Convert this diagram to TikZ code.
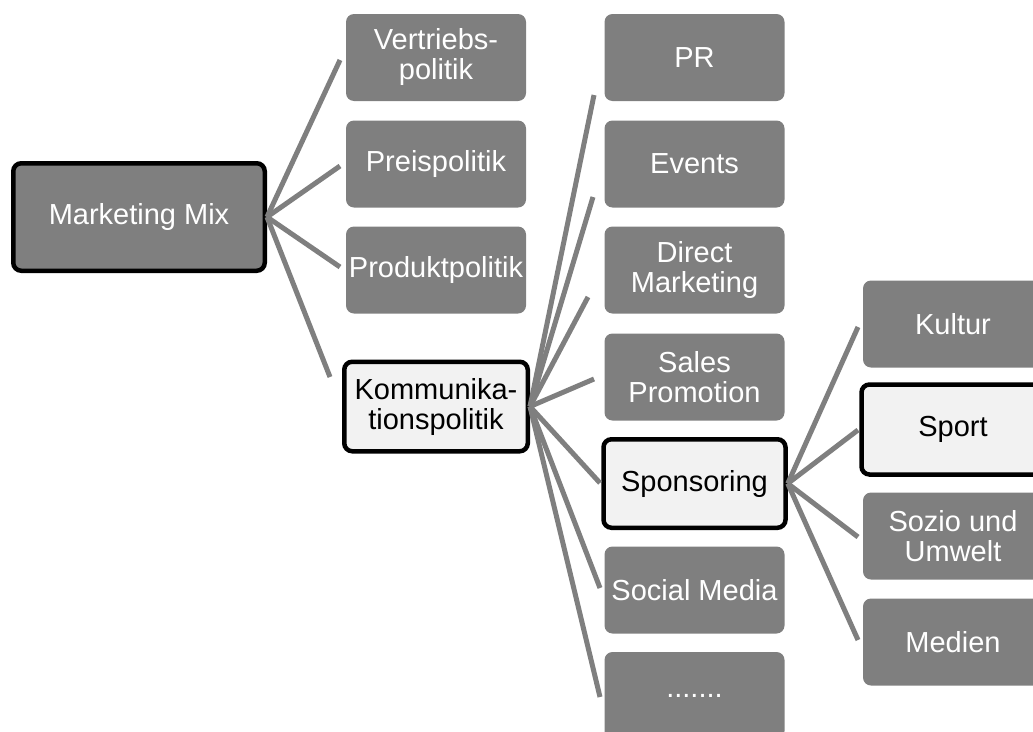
\documentclass[tikz,border=0pt]{standalone}
\usepackage{fontspec}
\setmainfont{Liberation Sans}
\definecolor{boxgray}{RGB}{127,127,127}
\definecolor{lightfill}{RGB}{242,242,242}
\begin{document}
\begin{tikzpicture}[x=1pt,y=-1pt,
  every node/.style={font=\fontsize{29}{30}\selectfont, align=center, inner sep=0pt},
  graybox/.style={rectangle, rounded corners=8pt, fill=boxgray, text=white,
    minimum width=180pt, minimum height=87pt},
  hlbox/.style={rectangle, rounded corners=8pt, fill=lightfill, draw=black,
    line width=4.5pt, text=black},
  conn/.style={draw=boxgray, line width=5pt}]
\useasboundingbox (0,0) rectangle (1033,731);
\clip (0,0) rectangle (1033,731);
% level 0
\node[hlbox, fill=boxgray, text=white, minimum width=251.5pt, minimum height=107.5pt] (mm) at (139,217) {Marketing Mix};
% level 1
\node[graybox] (vp) at (436,57.5) {Vertriebs-\\politik};
\node[graybox] (pp) at (436,164) {Preispolitik};
\node[graybox] (prod) at (436,270) {Produktpolitik};
\node[hlbox, minimum width=183.5pt, minimum height=89.5pt] (kp) at (436,406.5) {Kommunika-\\tionspolitik};
% level 2
\node[graybox] (pr) at (694.5,57.5) {PR};
\node[graybox] (ev) at (694.5,164) {Events};
\node[graybox] (dm) at (694.5,270) {Direct\\Marketing};
\node[graybox] (sp) at (694.5,377) {Sales\\Promotion};
\node[hlbox, minimum width=182pt, minimum height=88.5pt] (spon) at (694.5,483.5) {Sponsoring};
\node[graybox] (sm) at (694.5,590) {Social Media};
\node[graybox] (dots) at (694.5,695.5) {.......};
% level 3
\node[graybox] (ku) at (953,324) {Kultur};
\node[hlbox, minimum width=183pt, minimum height=90pt] (spo) at (953,429.5) {Sport};
\node[graybox] (so) at (953,536) {Sozio und\\Umwelt};
\node[graybox] (me) at (953,642) {Medien};
% connector ends
\coordinate (vpE) at (340,60);
\coordinate (ppE) at (340,166);
\coordinate (prodE) at (340,267);
\coordinate (kpE) at (330,377);
\coordinate (prE) at (594,95);
\coordinate (evE) at (593,197);
\coordinate (dmE) at (588,297);
\coordinate (spE) at (594,379);
\coordinate (sponE) at (600,483);
\coordinate (smE) at (600,588);
\coordinate (dotsE) at (600,697);
\coordinate (kuE) at (858,327);
\coordinate (spoE) at (858,430);
\coordinate (soE) at (858,537);
\coordinate (meE) at (858,640);
% connectors
\foreach \e in {vpE,ppE,prodE,kpE} \draw[conn] (mm.east) -- (\e);
\foreach \e in {prE,evE,dmE,spE,sponE,smE,dotsE} \draw[conn] (kp.east) -- (\e);
\foreach \e in {kuE,spoE,soE,meE} \draw[conn] (spon.east) -- (\e);
\end{tikzpicture}
\end{document}
